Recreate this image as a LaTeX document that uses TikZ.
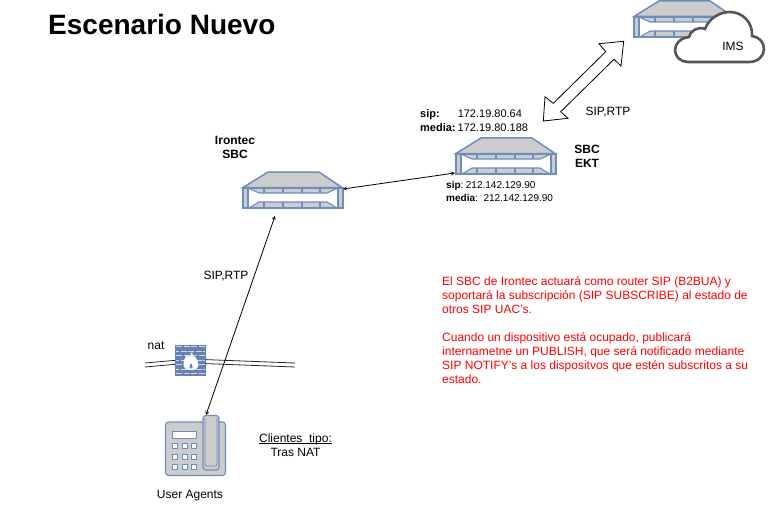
\documentclass[tikz,border=0pt]{standalone}
\usepackage{fontspec}
\setmainfont{Liberation Sans}
\definecolor{bcol}{RGB}{108,142,191}
\definecolor{gcol}{RGB}{204,204,204}
\definecolor{ccol}{RGB}{85,85,85}
\definecolor{fcol}{RGB}{104,129,179}
\tikzset{every picture/.style={x=1pt,y=-1pt}}
\tikzset{txt/.style={inner sep=0,font=\fontsize{12}{14}\selectfont,align=center}}
\tikzset{ip/.style={inner sep=0,font=\fontsize{10}{13}\selectfont,align=left}}
\tikzset{ipbig/.style={inner sep=0,font=\fontsize{11}{14}\selectfont,align=left}}
\tikzset{edge/.style={stealth-stealth,line width=.8}}
\tikzset{natline/.style={line width=.8,black!85}}
\tikzset{part/.style={draw=bcol,fill=gcol,line width=1.1}}
\tikzset{sbc/.pic={
  \draw [part,line width=1.5] (0,15.5) -- (25,0) -- (76,0) -- (99,15.5) -- cycle;
  \draw [part,line width=1.1] (0,16) rectangle (5,36);
  \draw [part,line width=1.1] (95,16) rectangle (100,36);
  \draw [part] (5,16) -- (95,16) -- (84,21) -- (16,21) -- cycle;
  \draw [part] (6,36) -- (16,30) -- (84,30) -- (94,36) -- cycle;
  \foreach \xs in {21,40,59,77} {
    \draw [bcol,line width=1.1] (\xs,16) -- (\xs,21);
    \draw [bcol,line width=1.1] (\xs,30) -- (\xs,36);
  }
  \draw [bcol,line width=1.5] (0,16) -- (100,16);
  \draw [bcol,line width=1.5] (0,36) -- (100,36);
}}
\begin{document}
\begin{tikzpicture}
\useasboundingbox (0,0) rectangle (768,516);

% routers
\coordinate (sbcl) at (243,172);
\coordinate (sbce) at (456,138);
\coordinate (sbci) at (634,1);
\pic at (sbcl) {sbc};
\pic at (sbce) {sbc};
\pic at (sbci) {sbc};

% cloud
\draw [ccol,fill=white,line width=2.6] (688,62) -- (749,62)
  .. controls (758,62) and (764,56) .. (764,49)
  .. controls (764,42) and (759,37) .. (752,36)
  .. controls (753,22) and (742,12) .. (730,12)
  .. controls (720,12) and (709,18) .. (705,29)
  .. controls (698,26) and (690,31) .. (689,37)
  .. controls (680,38) and (675,44) .. (675,50)
  .. controls (675,57) and (681,62) .. (688,62) -- cycle;
\node [txt] (ims) at (733,46) {IMS};

% nat lines
\coordinate (nl1) at (145,363);
\coordinate (nl2) at (145,367);
\coordinate (nr1) at (295,363);
\coordinate (nr2) at (295,367);
\coordinate (nm1) at (190,359);
\coordinate (nm2) at (190,363);
\draw [natline] (nl1) -- (nm1) -- (nr1);
\draw [natline] (nl2) -- (nm2) -- (nr2);

% firewall
\node [draw=none,fill=fcol,minimum width=31,minimum height=31,inner sep=0] (fw) at (190.5,360) {};
\foreach \yb/\ph in {346.5/0,351/3,355.5/0,360/3,364.5/0,369/3,373.5/0} {
  \draw [white!70!fcol,line width=1,dash pattern=on 6 off 1.5,dash phase=\ph] (176,\yb) -- (205,\yb);
}
\fill [white] (192,352) .. controls (192,356) and (195,356) .. (196,358)
  .. controls (198,361) and (199,365) .. (198,367)
  .. controls (197,369) and (195,370) .. (191,370)
  .. controls (186,370) and (184,368) .. (183.5,366)
  .. controls (183,361) and (185,358) .. (186.5,355)
  .. controls (187.5,357) and (188.5,357) .. (189.5,356)
  .. controls (190.5,355) and (191,354) .. (192,352) -- cycle;
\fill [fcol] (191,363) .. controls (191.5,365) and (193,366) .. (192.5,367.5)
  .. controls (192,369) and (190,369) .. (189.5,367.5)
  .. controls (189,366) and (190.5,365) .. (191,363) -- cycle;

% phone
\draw [part,rounded corners=3] (165.5,422) rectangle (225.5,475.5);
\draw [part,rounded corners=3] (203,415.5) rectangle (219,470);
\draw [bcol,line width=.7,rounded corners=2] (205,418) -- (205,466) -- (217,466) -- (217,418);
\draw [bcol,fill=white,line width=1] (172.5,431.5) rectangle (196.5,438);
\foreach \xk in {172.5,182,191.5} {
  \foreach \yk in {443.5,454,464.5} {
    \draw [bcol,fill=white,line width=1] (\xk,\yk) rectangle ++(5,5);
  }
}

% connectors
\coordinate (a1) at (343,189);
\coordinate (a2) at (455,173);
\coordinate (b1) at (275,216);
\coordinate (b2) at (206,415);
\draw [edge] (a1) -- (a2);
\draw [edge] (b1) -- (b2);
\coordinate (l1) at (543.3,121);
\coordinate (l2) at (623.7,41.3);
\draw [fill=white,line width=.8] (l1) -- (545,96.7) -- (553.3,103.3) -- (605.7,51.7) -- (599,43.7)
  -- (l2) -- (621,66) -- (614,59.3) -- (560.7,111.7) -- (568,118.3) -- cycle;

% labels
\node [inner sep=0,anchor=west,font=\fontsize{28}{30}\selectfont\bfseries] (title) at (48,24) {Escenario Nuevo};
\node [txt,font=\fontsize{12}{14}\selectfont\bfseries] (irontec) at (235,147.5) {Irontec\\SBC};
\node [txt,font=\fontsize{12}{14}\selectfont\bfseries] (ekt) at (587,156) {SBC\\EKT};
\node [txt] (rtp1) at (608,112) {SIP,RTP};
\node [txt] (rtp2) at (226,276) {SIP,RTP};
\node [txt] (nat) at (156,346) {nat};
\node [txt] (ua) at (190,495.5) {User Agents};
\node [txt] (tipo) at (295.5,445) {\makebox[0pt][l]{\rule[-1.8pt]{72.5pt}{.6pt}}Clientes\ \ tipo:\\Tras NAT};
\node [ipbig,anchor=west] (ipint) at (420,120.5) {\textbf{sip:}\hspace{18pt}172.19.80.64\\\textbf{media:}\hspace{2pt}172.19.80.188};
\node [ip,anchor=west] (ipext) at (446,191) {\textbf{sip}:\hspace{2.5pt}212.142.129.90\\\textbf{media}:\ \ 212.142.129.90};
\node [txt,anchor=north west,align=left,red] (note) at (442,276.5) {El SBC de Irontec actuará como router SIP (B2BUA) y\\soportará la subscripción (SIP SUBSCRIBE) al estado de\\otros SIP UAC's.\\[14pt]Cuando un dispositivo está ocupado, publicará\\internametne un PUBLISH, que será notificado mediante\\SIP NOTIFY's a los dispositvos que estén subscritos a su\\estado.};
\end{tikzpicture}
\end{document}
